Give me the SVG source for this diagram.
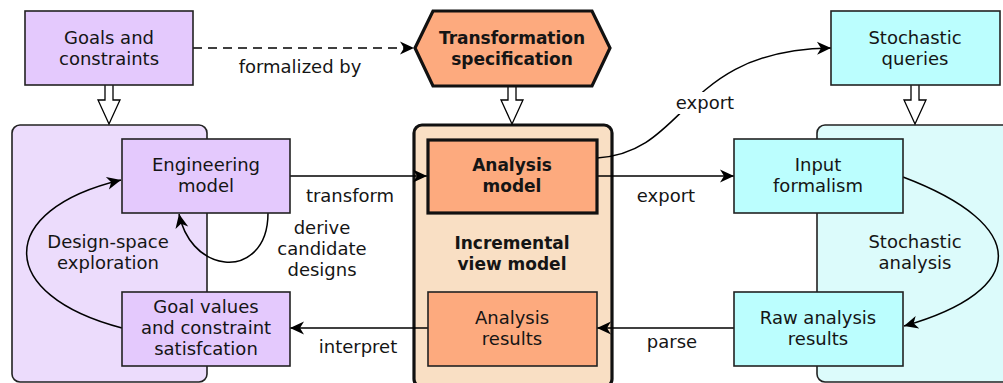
<svg xmlns="http://www.w3.org/2000/svg" width="1003" height="383" viewBox="0 0 1003 383">
  <style>
    text { font-family: "DejaVu Sans", "Open Sans", sans-serif; font-size: 18px; fill: #151515; text-anchor: middle; }
    .b { font-weight: bold; font-size: 17px; }
    .box { stroke: #222; stroke-width: 1.6; }
    .thick { stroke: #111; stroke-width: 3.2; }
    .pu { fill: #e4c9fd; }
    .pu-bg { fill: #ecdcfc; }
    .or { fill: #fdaa7e; }
    .or-bg { fill: #f9dfc4; }
    .cy { fill: #bbfefe; }
    .cy-bg { fill: #dcfbfb; }
    .line { fill: none; stroke: #000; stroke-width: 1.5; }
    .dash { stroke-dasharray: 9 6; }
    .hollow { fill: #fff; stroke: #000; stroke-width: 1.3; stroke-linejoin: miter; }
    .lbl-bg { fill: #fff; }
  </style>
  <defs>
    <marker id="stealth" viewBox="-15 -8 16 16" refX="0" refY="0" markerWidth="16" markerHeight="16" markerUnits="userSpaceOnUse" orient="auto">
      <path d="M0,0 L-14,-6.5 L-10,0 L-14,6.5 Z" fill="#000"/>
    </marker>
  </defs>

  <rect width="1003" height="383" fill="#fff"/>

  <!-- background panels -->
  <g id="panel-design">
    <rect class="box pu-bg" x="12" y="125" width="195" height="257" rx="8"/>
  </g>
  <g id="panel-view">
    <rect class="thick or-bg" x="414" y="125" width="198" height="262" rx="8"/>
  </g>
  <g id="panel-analysis">
    <rect class="box cy-bg" x="817" y="125" width="200" height="257" rx="8"/>
  </g>

  <!-- connectors -->
  <g id="connectors">
    <path class="line dash" d="M193,48 H414" marker-end="url(#stealth)"/>
    <text x="300" y="73">formalized by</text>

    <path class="hollow" d="M105,85 V100 H98 L109,124 L120,100 H113 V85"/>
    <path class="hollow" d="M508,86 V100 H501 L512,124 L523,100 H516 V86"/>
    <path class="hollow" d="M911,85 V100 H904 L915,124 L926,100 H919 V85"/>

    <path class="line" d="M290,176 H427" marker-end="url(#stealth)"/>
    <text x="350" y="202">transform</text>

    <path class="line" d="M268,213 C268,250 245,264 225,262 C200,259 184,238 179,214" marker-end="url(#stealth)"/>
    <text x="322" y="234">derive</text>
    <text x="322" y="255">candidate</text>
    <text x="322" y="276">designs</text>

    <path class="line" d="M122,328 C-5,295 -5,210 121,180" marker-end="url(#stealth)"/>
    <text x="108" y="248">Design-space</text>
    <text x="108" y="269">exploration</text>

    <path class="line" d="M597,176 H734" marker-end="url(#stealth)"/>
    <text x="666" y="202">export</text>

    <path class="line" d="M597,158 C690,152 680,50 831,48" marker-end="url(#stealth)"/>
    <rect class="lbl-bg" x="670" y="92" width="72" height="22"/>
    <text x="705" y="109">export</text>

    <path class="line" d="M903,177 C1030,225 1030,290 904,326" marker-end="url(#stealth)"/>
    <text x="915" y="248">Stochastic</text>
    <text x="915" y="269">analysis</text>

    <path class="line" d="M734,328 H597" marker-end="url(#stealth)"/>
    <text x="672" y="348">parse</text>

    <path class="line" d="M428,328 H290" marker-end="url(#stealth)"/>
    <text x="358" y="353">interpret</text>
  </g>

  <!-- nodes -->
  <g id="goals">
    <rect class="box pu" x="25" y="11" width="168" height="74"/>
    <text x="109" y="44">Goals and</text>
    <text x="109" y="65">constraints</text>
  </g>
  <g id="transformation-spec">
    <path class="thick or" d="M415,48 L433,11 H592 L610,48 L592,86 H433 Z"/>
    <text class="b" x="512" y="44">Transformation</text>
    <text class="b" x="512" y="65">specification</text>
  </g>
  <g id="stochastic-queries">
    <rect class="box cy" x="831" y="11" width="169" height="74"/>
    <text x="915" y="44">Stochastic</text>
    <text x="915" y="65">queries</text>
  </g>

  <g id="engineering-model">
    <rect class="box pu" x="122" y="139" width="168" height="74"/>
    <text x="206" y="171">Engineering</text>
    <text x="206" y="192">model</text>
  </g>
  <g id="goal-values">
    <rect class="box pu" x="122" y="292" width="168" height="74"/>
    <text x="206" y="313">Goal values</text>
    <text x="206" y="334">and constraint</text>
    <text x="206" y="355">satisfcation</text>
  </g>

  <g id="analysis-model">
    <rect class="thick or" x="428" y="140" width="169" height="73"/>
    <text class="b" x="512" y="171">Analysis</text>
    <text class="b" x="512" y="192">model</text>
  </g>
  <g id="incremental-view-model">
    <text class="b" x="512" y="249">Incremental</text>
    <text class="b" x="512" y="270">view model</text>
  </g>
  <g id="analysis-results">
    <rect class="box or" x="428" y="292" width="169" height="74"/>
    <text x="512" y="324">Analysis</text>
    <text x="512" y="345">results</text>
  </g>

  <g id="input-formalism">
    <rect class="box cy" x="734" y="139" width="169" height="74"/>
    <text x="818" y="171">Input</text>
    <text x="818" y="192">formalism</text>
  </g>
  <g id="raw-results">
    <rect class="box cy" x="734" y="292" width="169" height="74"/>
    <text x="818" y="324">Raw analysis</text>
    <text x="818" y="345">results</text>
  </g>
</svg>
